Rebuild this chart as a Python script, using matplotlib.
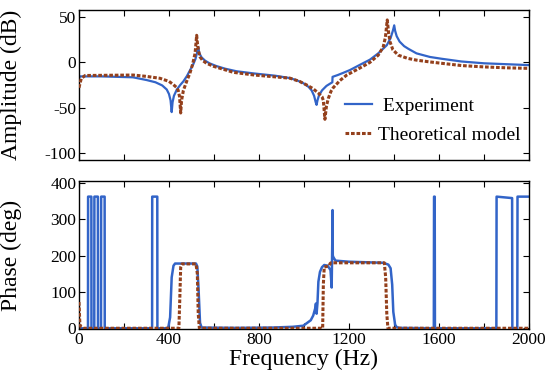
import matplotlib
matplotlib.use("Agg")
import matplotlib.pyplot as plt

plt.rcParams['font.family'] = ['Liberation Serif', 'DejaVu Serif']
plt.rcParams['axes.unicode_minus'] = False

# amplitude, experiment
amp_exp_f = [0, 5, 100, 240, 300, 340, 370, 390, 400, 407, 412, 416, 422, 435, 450,
             464, 480, 495, 508, 518, 525, 530, 535, 545, 560, 580, 610, 650, 700,
             780, 871, 938, 970, 997, 1020, 1034, 1045, 1052, 1056, 1060, 1066, 1080,
             1100, 1116, 1126, 1127, 1150, 1175, 1204, 1250, 1293, 1330, 1368, 1385,
             1395, 1401, 1405, 1412, 1425, 1445, 1464, 1500, 1560, 1612, 1700, 1800,
             1900, 2000]
amp_exp_db = [-17, -15.5, -15.5, -16.5, -19.5, -22, -25.5, -30, -35, -42, -55, -44, -37,
              -30, -25, -21, -15, -8, -2, 4, 11, 17, 10, 5.5, 2, -1, -4, -7, -9.8,
              -12.3, -14.7, -17.4, -20, -23, -27, -31, -37, -44, -47, -42, -37, -31,
              -26, -23.5, -22, -16, -14, -11.5, -8.5, -2.5, 3, 10, 19, 27,
              35, 41, 35, 29, 23, 18, 15, 10, 6, 4, 1, -1,
              -2, -3]

# amplitude, theoretical model
amp_th_f = [0, 10, 27, 241, 300, 360, 400, 419, 435, 441, 447, 452, 456, 464, 480,
            493, 505, 516, 523, 527, 532, 538, 550, 567, 600, 640, 686, 780, 871, 938,
            980, 1012, 1040, 1064, 1080, 1086, 1093, 1100, 1108, 1120, 1130, 1160,
            1190, 1250, 1293, 1330, 1352, 1362, 1370, 1376, 1382, 1395, 1419, 1460,
            1500, 1560, 1612, 1700, 1800, 1900, 2000]
amp_th_db = [-28, -18, -14.5, -14, -15.5, -17.6, -21, -24.5, -28, -31, -38, -56, -42,
             -31, -20, -12, -2, 10, 30, 20, 12, 6, 2, -1, -4.5, -7.5, -11, -14, -16,
             -17.5, -21, -25, -29, -34, -38, -42, -63, -48, -40, -32, -28, -20,
             -14, -6, 0, 8, 17, 28, 47, 33, 23, 14, 8, 4.5,
             2.5, 0.5, -1, -3.5, -5, -6, -6.6]

# phase, experiment
ph_exp_f = [0, 40, 40.5, 55, 55.5, 68, 68.5, 84, 84.5, 98, 98.5, 114, 114.5,
            325, 325.5, 348, 348.5, 390, 397, 405, 412, 420, 427, 520, 526, 532, 538,
            545, 700, 862, 950, 997, 1030, 1041, 1050, 1053, 1056, 1060, 1064, 1071,
            1080, 1090, 1105, 1118, 1123, 1126, 1127, 1128, 1131, 1140, 1200, 1353,
            1375, 1385, 1392, 1397, 1405, 1412, 1425, 1577, 1578, 1581, 1582,
            1855, 1856, 1925, 1926, 1948, 1949, 2000]
ph_exp_deg = [0, 0, 362, 362, 0, 0, 362, 362, 0, 0, 362, 362, 0,
              0, 362, 362, 0, 0, 3, 30, 140, 172, 178, 178, 170, 100, 15,
              2, 1, 2, 4, 7, 22, 35, 55, 68, 40, 70, 128, 155,
              168, 174, 172, 160, 112, 250, 325, 200, 195, 186, 183, 180,
              175, 165, 120, 45, 10, 3, 1, 0, 362, 362, 0,
              0, 362, 358, 0, 0, 362, 362]

# phase, theoretical model
ph_th_f = [0, 4, 10, 20, 444, 448, 452, 458, 520, 526, 530, 535, 1083, 1086, 1090,
           1112, 1116, 1120, 1357, 1363, 1368, 1373, 2000]
ph_th_deg = [72, 10, 3, 0, 0, 80, 168, 177, 177, 150, 40, 0, 0, 120, 168,
             172, 178, 180, 180, 140, 40, 0, 0]

blue = '#3264c8'
red = '#94401c'

fig = plt.figure(figsize=(5.5, 3.87), dpi=100)
ax1 = fig.add_axes([0.1436, 0.5866, 0.8182, 0.3876])
ax2 = fig.add_axes([0.1436, 0.1499, 0.8182, 0.3824])

ax1.plot(amp_exp_f, amp_exp_db, color=blue, lw=1.6, label=' Experiment', zorder=2)
ax1.plot(amp_th_f, amp_th_db, color=red, lw=2.2, dashes=(1.2, 0.6),
         label='Theoretical model', zorder=3)
ax2.plot(ph_exp_f, ph_exp_deg, color=blue, lw=1.8, zorder=2)
ax2.plot(ph_th_f, ph_th_deg, color=red, lw=2.2, dashes=(1.2, 0.6), zorder=3)

xt = list(range(0, 2001, 200))
for ax in (ax1, ax2):
    ax.set_xlim(0, 2000)
    ax.set_xticks(xt)
    ax.tick_params(direction='in', top=True, right=True, length=4, width=0.8,
                   labelsize=12.5, pad=2)
    for s in ax.spines.values():
        s.set_linewidth(1.0)

ax1.set_ylim(-108, 58)
ax1.set_yticks([-100, -50, 0, 50])
ax1.set_xticklabels([])
ax1.set_ylabel('Amplitude (dB)', fontsize=17)
ax1.yaxis.set_label_coords(-0.127, 0.5)
ax1.legend(loc='upper left', bbox_to_anchor=(0.591, 0.42), frameon=False,
           fontsize=14, handlelength=1.4, handletextpad=0.3, labelspacing=0.6,
           borderpad=0, borderaxespad=0)

ax2.set_ylim(-2, 405)
ax2.set_yticks([0, 100, 200, 300, 400])
ax2.set_xticklabels([str(v) if v % 400 == 0 else '' for v in xt])
ax2.set_ylabel('Phase (deg)', fontsize=17)
ax2.yaxis.set_label_coords(-0.127, 0.5)
ax2.set_xlabel('Frequency (Hz)', fontsize=17, labelpad=1)

fig.savefig('out.png', dpi=100)
